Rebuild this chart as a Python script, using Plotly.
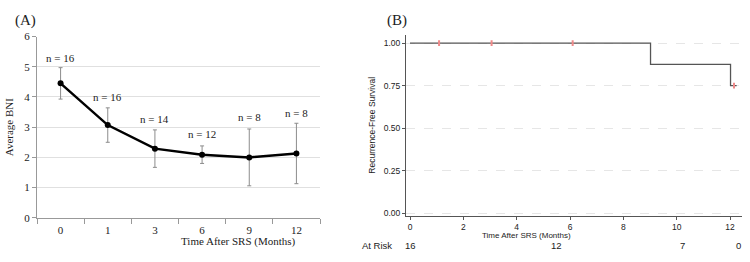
import plotly.graph_objects as go

# Panel A data
months = ["0", "1", "3", "6", "9", "12"]
avg_bni = [4.45, 3.07, 2.29, 2.09, 2.00, 2.13]
bni_err = [0.52, 0.57, 0.62, 0.29, 0.94, 1.00]
n_labels = ["n = 16", "n = 16", "n = 14", "n = 12", "n = 8", "n = 8"]
n_label_y = [5.3, 4.0, 3.27, 2.76, 3.33, 3.46]

# Panel B data (Kaplan-Meier)
km_time = [0, 9.02, 9.02, 12.02, 12.02, 12.25]
km_surv = [1.0, 1.0, 0.875, 0.875, 0.75, 0.75]
cens_time = [1.09, 3.06, 6.1, 12.15]
cens_surv = [1.0, 1.0, 1.0, 0.75]
risk_times = [0, 5.5, 10.2, 12.3]
risk_counts = ["16", "12", "7", "0"]

serif = "Liberation Serif"
sans = "Liberation Sans"

fig = go.Figure()

fig.add_trace(go.Scatter(
    x=months, y=avg_bni, mode="lines+markers",
    line=dict(color="black", width=2.5),
    marker=dict(color="black", size=6),
    error_y=dict(type="data", array=bni_err, color="#8c8c8c", thickness=1, width=2),
    xaxis="x", yaxis="y", showlegend=False,
))

fig.add_trace(go.Scatter(
    x=km_time, y=km_surv, mode="lines",
    line=dict(color="#555555", width=1.3),
    xaxis="x2", yaxis="y2", showlegend=False,
))
fig.add_trace(go.Scatter(
    x=cens_time, y=cens_surv, mode="markers",
    marker=dict(symbol="line-ns", size=4, line=dict(color="#f08a8a", width=2)),
    xaxis="x2", yaxis="y2", showlegend=False,
))

def py(px):
    return 1 - px / 262

annotations = []
for i, (lab, yy) in enumerate(zip(n_labels, n_label_y)):
    annotations.append(dict(x=i, y=yy, xref="x", yref="y", text=lab, showarrow=False,
                            yanchor="middle", font=dict(family=serif, size=11, color="#222")))
for t, c in zip(risk_times, risk_counts):
    annotations.append(dict(x=t, y=py(251), xref="x2", yref="paper", text=c, showarrow=False,
                            yanchor="middle", font=dict(family=sans, size=9.5, color="#222")))
annotations.append(dict(x=377 / 750, y=py(251), xref="paper", yref="paper", text="At Risk",
                        showarrow=False, yanchor="middle", font=dict(family=sans, size=9.5, color="#222")))
annotations.append(dict(x=13 / 750, y=py(15), xref="paper", yref="paper", text="(A)",
                        showarrow=False, xanchor="left", yanchor="middle",
                        font=dict(family=serif, size=15, color="#222")))
annotations.append(dict(x=385 / 750, y=py(15), xref="paper", yref="paper", text="(B)",
                        showarrow=False, xanchor="left", yanchor="middle",
                        font=dict(family=serif, size=15, color="#222")))
annotations.append(dict(x=(37 + 320) / 2 / 750, y=py(247), xref="paper", yref="paper",
                        text="Time After SRS (Months)", showarrow=False, yanchor="middle",
                        font=dict(family=serif, size=11, color="#222")))
annotations.append(dict(x=573 / 750, y=py(240), xref="paper", yref="paper",
                        text="Time After SRS (Months)", showarrow=False, yanchor="middle",
                        font=dict(family=sans, size=8, color="#222")))

fig.update_layout(
    width=750, height=262,
    margin=dict(l=0, r=0, t=0, b=0),
    paper_bgcolor="white", plot_bgcolor="white",
    annotations=annotations,
    xaxis=dict(
        domain=[37 / 750, 320 / 750], type="category", range=[-0.5, 5.5],
        showline=True, linecolor="#999", linewidth=1,
        ticks="outside", tickson="boundaries", ticklen=5, tickcolor="#999",
        ticklabelstandoff=2,
        showgrid=False, zeroline=False,
        tickfont=dict(family=serif, size=11, color="#222"),
        anchor="y",
    ),
    yaxis=dict(
        domain=[py(222), py(32)], range=[0, 6],
        tickvals=[0, 1, 2, 3, 4, 5, 6],
        showline=True, linecolor="#999", linewidth=1,
        ticks="outside", ticklen=4, tickcolor="#999",
        showgrid=True, gridcolor="#e0e0e0", zeroline=False,
        tickfont=dict(family=serif, size=11, color="#222"),
        title=dict(text="Average BNI", font=dict(family=serif, size=11, color="#222"), standoff=8),
        anchor="x",
    ),
    xaxis2=dict(
        domain=[406 / 750, 742 / 750], range=[-0.15, 12.45],
        tickvals=[0, 2, 4, 6, 8, 10, 12],
        showline=True, linecolor="#555", linewidth=1,
        ticks="outside", ticklen=3, tickcolor="#555",
        ticklabelstandoff=0,
        showgrid=False, zeroline=False,
        tickfont=dict(family=sans, size=8.5, color="#222"),
        anchor="y2",
    ),
    yaxis2=dict(
        domain=[py(220), py(30)], range=[-0.0169, 1.05],
        tickvals=[0, 0.25, 0.5, 0.75, 1.0],
        ticktext=["0.00", "0.25", "0.50", "0.75", "1.00"],
        showline=True, linecolor="#555", linewidth=1,
        ticks="outside", ticklen=3, tickcolor="#555",
        showgrid=True, gridcolor="#e6e6e6", griddash="dash", zeroline=False,
        tickfont=dict(family=sans, size=8.5, color="#222"),
        title=dict(text="Recurrence-Free Survival", font=dict(family=sans, size=8.5, color="#222"), standoff=6),
        anchor="x2",
    ),
)

fig.write_html("out.html")
